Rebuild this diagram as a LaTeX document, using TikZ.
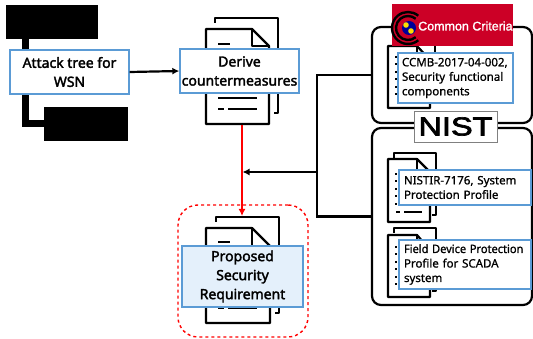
\documentclass[tikz,border=0pt]{standalone}
\usepackage{fontspec}
\setmainfont{Noto Sans}
\newfontfamily\labelfont[FakeBold=2.2]{Noto Sans}
\newfontfamily\smallfont[FakeBold=1.0]{Noto Sans}
\newfontfamily\logofont[FakeBold=2.5]{Liberation Sans}
\newfontfamily\ccfont[FakeBold=1.5]{Liberation Sans}
\usetikzlibrary{arrows.meta}
\definecolor{boxblue}{RGB}{91,155,213}
\definecolor{lightfill}{RGB}{228,240,251}
\definecolor{ccred}{RGB}{204,0,38}
\tikzset{
  blackbox/.style={draw=none,fill=black,inner sep=0pt,minimum width=#1},
  labelbox/.style={draw=boxblue,line width=1.4pt,fill=white,inner sep=0pt,align=center,font=\fontsize{14}{19}\labelfont},
  smallbox/.style={draw=boxblue,line width=1.4pt,fill=white,inner sep=0pt,align=left,font=\fontsize{11.5}{14.5}\smallfont},
  grp/.style={draw=black,line width=2.2pt,rounded corners=9pt},
  docline/.style={draw=black,line width=2.2pt,line join=round},
  conn/.style={draw=black,line width=2.2pt},
  connarrow/.style={conn,-{Latex[length=7pt,width=7pt]}},
  redarrow/.style={draw=red,line width=2.2pt,-{Latex[length=7pt,width=7pt]}},
}
\newcommand{\docicon}[9]{%
 \draw[docline] (#7+0,#8+5) -- (#7,#8) -- (#9,#8) -- (#9,\docbot) -- (#9-4,\docbot);
 \draw[docline,fill=white] (#1,#2) -- (#5,#2) -- (#3,#6) -- (#3,#4) -- (#1,#4) -- cycle;
 \draw[docline] (#5,#2) -- (#5,#6) -- (#3,#6);
}
\begin{document}
\begin{tikzpicture}[x=1pt,y=-1pt]
\useasboundingbox (0,0) rectangle (533,339);
% left tree
\node[blackbox=92pt,minimum height=34pt] (topk) at (52,22) {};
\node[blackbox=84pt,minimum height=34pt] (botk) at (86,124) {};
\coordinate (trunk) at (25.5,39);
\draw[line width=7pt] (trunk) |- (botk.west);
\node[labelbox,minimum width=119pt,minimum height=44pt] (attack) at (69.5,72) {Attack tree for\\WSN};
% groups
\node[grp,minimum width=160pt,minimum height=96pt] (g1) at (452,75) {};
\node[grp,minimum width=160pt,minimum height=177pt] (g2) at (452,216.5) {};
% derive doc
\def\docbot{113}
\docicon{206}{29}{269}{124}{252}{46}{215}{18}{278}
\draw[docline] (218,44)--(230,44) (218,98)--(257,98) (218,109)--(224,109) (228,109)--(257,109);
\node[labelbox,minimum width=119pt,minimum height=44pt] (derive) at (239.5,71) {Derive\\countermeasures};
% proposed doc
\def\docbot{313}
\docicon{206}{228}{270}{323}{252}{246}{216}{217}{279}
\draw[docline] (218,242)--(230,242) (218,308)--(224,308) (228,308)--(257,308);
\node[labelbox,fill=lightfill,minimum width=121pt,minimum height=61pt] (prop) at (242.5,276.5) {Proposed\\Security\\Requirement};
\node[draw=red,line width=1.4pt,dashed,rounded corners=20pt,minimum width=130pt,minimum height=132pt] (dash) at (243,271) {};
% small docs
\def\docbot{60}
\docicon{388}{46}{430}{108}{417}{60}{394}{40}{435}
\def\docbot{215}
\docicon{388}{159}{430}{222}{417}{172}{394}{153}{436}
\draw[docline] (396,212)--(400,212) (404,212)--(422,212);
\def\docbot{291}
\docicon{388}{235}{430}{297}{417}{250}{394}{228}{436}
\draw[black,line width=2pt,dash pattern=on 2pt off 5.5pt] (396,56)--(396,100) (396,173)--(396,205) (396,246)--(396,289);
\node[smallbox,minimum width=115pt,minimum height=50pt,text width=107pt] (ccmb) at (455.5,78) {CCMB-2017-04-002,\\Security functional\\components};
\node[smallbox,minimum width=132pt,minimum height=35pt,text width=122pt] (nistir) at (465,187.5) {NISTIR-7176, System\\Protection Profile};
\node[smallbox,minimum width=132pt,minimum height=49pt,text width=122pt] (field) at (465,264.5) {\mbox{\scalebox{.96}[1]{Field Device Protection}}\\Profile for SCADA\\system};
% logos
\node[fill=ccred,minimum width=121pt,minimum height=42pt,inner sep=0pt] (cc) at (452.5,25) {};
\draw[black,line width=2.4pt] (408,28) ++(50:16) arc[start angle=50,end angle=310,radius=16];
\draw[black,line width=2.4pt] (408,28) ++(50:12) arc[start angle=50,end angle=310,radius=12];
\fill[blue!60!black] (409,28) circle (7);
\fill[yellow!80!orange] (406,25) circle (2.8);
\fill[yellow!80!orange] (411,31) circle (2.8);
\node[anchor=west,text=white,inner sep=0pt,font=\fontsize{12.5}{14}\ccfont] (cctext) at (418,26) {Common Criteria};
\node[draw=gray,line width=.8pt,fill=white,minimum width=83pt,minimum height=31pt,inner sep=0pt] (nist) at (455.5,126.5) {\scalebox{1.25}[1]{\fontsize{26}{26}\logofont NIST}};
% connectors
\coordinate (junc) at (317,172);
\draw[conn] (g1.west) -| (junc) |- (g2.west);
\draw[connarrow] (attack.east) -- (derive.west);
\draw[redarrow] (242,125) -- (242,216);
\draw[connarrow] (junc) -- (242.5,172);
\end{tikzpicture}
\end{document}
